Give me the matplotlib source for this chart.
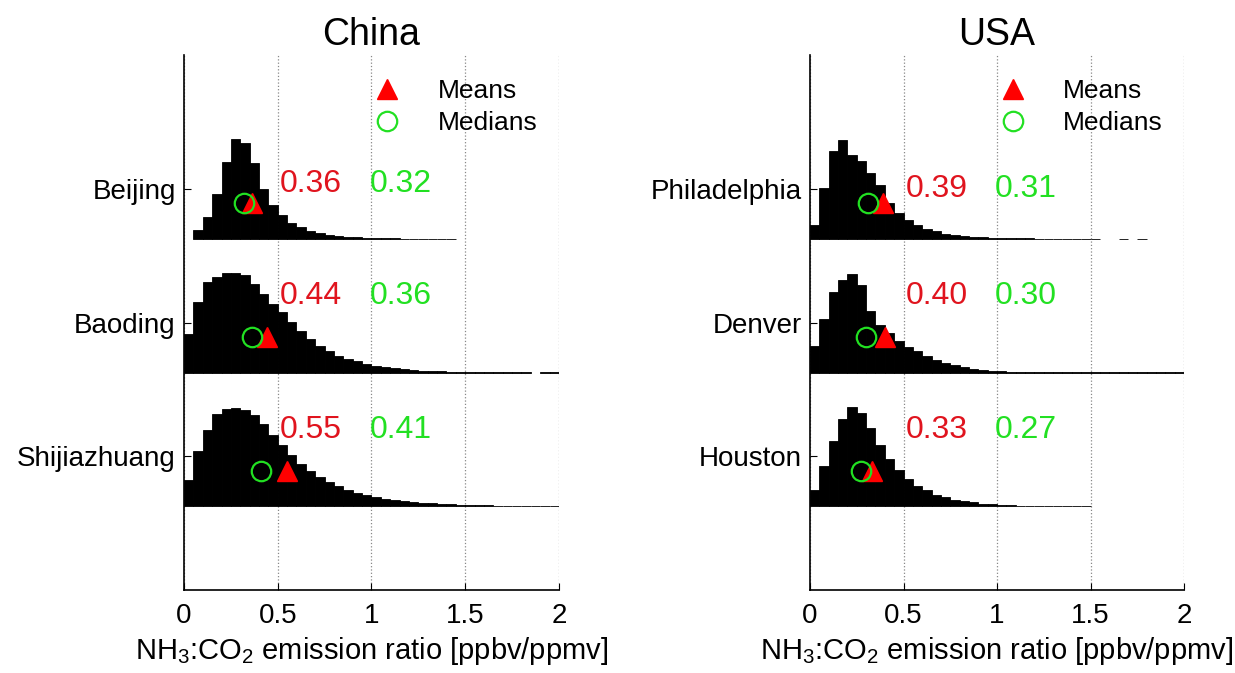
import numpy as np
import matplotlib
matplotlib.use("Agg")
from matplotlib import pyplot as plt
from matplotlib.lines import Line2D

plt.rcParams['font.family'] = ['Liberation Sans', 'DejaVu Sans']
plt.rcParams['mathtext.fontset'] = 'custom'
plt.rcParams['mathtext.rm'] = 'Liberation Sans'
plt.rcParams['mathtext.it'] = 'Liberation Sans:italic'

# --- data (normalised histograms, bin width 0.05) ---
bin_width = 0.05

china_cities = ["Beijing", "Baoding", "Shijiazhuang"]
usa_cities = ["Philadelphia", "Denver", "Houston"]

beijing = [0, 0.065, 0.165, 0.335, 0.575, 0.75, 0.715, 0.565, 0.37, 0.255,
           0.18, 0.117, 0.087, 0.062, 0.045, 0.032, 0.022, 0.016, 0.012, 0.009,
           0.007, 0.005, 0.004, 0.003, 0.002, 0.002, 0.002, 0.002, 0.002, 0,
           0, 0, 0, 0, 0, 0, 0, 0, 0, 0]
baoding = [0.29, 0.53, 0.675, 0.713, 0.745, 0.745, 0.73, 0.663, 0.589, 0.514,
           0.451, 0.377, 0.314, 0.252, 0.202, 0.165, 0.127, 0.102, 0.085, 0.065,
           0.052, 0.042, 0.034, 0.027, 0.021, 0.016, 0.012, 0.009, 0.007, 0.005,
           0.004, 0.003, 0.003, 0.002, 0.002, 0.002, 0.002, 0, 0.002, 0.002]
shijiazhuang = [0.195, 0.415, 0.574, 0.69, 0.726, 0.738, 0.718, 0.681, 0.615, 0.531,
                0.456, 0.382, 0.319, 0.264, 0.219, 0.182, 0.150, 0.125, 0.102, 0.082,
                0.070, 0.057, 0.047, 0.040, 0.032, 0.027, 0.022, 0.018, 0.015, 0.012,
                0.010, 0.008, 0.007, 0.006, 0.005, 0.004, 0.003, 0.003, 0.002, 0.002]
philadelphia = [0.107, 0.38, 0.655, 0.743, 0.63, 0.586, 0.494, 0.406, 0.269, 0.195,
                0.145, 0.102, 0.077, 0.057, 0.04, 0.027, 0.02, 0.015, 0.012, 0.009,
                0.007, 0.006, 0.005, 0.004, 0.003, 0.003, 0.002, 0.002, 0.002, 0.002,
                0.002, 0, 0, 0.002, 0, 0.002, 0, 0, 0, 0]
denver = [0.197, 0.404, 0.603, 0.696, 0.74, 0.658, 0.464, 0.36, 0.30, 0.234,
          0.19, 0.16, 0.122, 0.097, 0.072, 0.055, 0.04, 0.03, 0.022, 0.015,
          0.011, 0.008, 0.006, 0.005, 0.004, 0.002, 0.002, 0.002, 0.002, 0.002,
          0.002, 0.002, 0.002, 0.002, 0.002, 0.002, 0.002, 0.002, 0.002, 0.002]
houston = [0.125, 0.304, 0.491, 0.653, 0.743, 0.698, 0.586, 0.46, 0.354, 0.274,
           0.204, 0.155, 0.12, 0.087, 0.07, 0.05, 0.037, 0.03, 0.02, 0.015,
           0.01, 0.007, 0.005, 0.004, 0.003, 0.002, 0.002, 0.002, 0.002, 0.002,
           0, 0, 0, 0, 0, 0, 0, 0, 0, 0]

china_means = [0.36, 0.44, 0.55]
china_medians = [0.32, 0.36, 0.41]
usa_means = [0.39, 0.40, 0.33]
usa_medians = [0.31, 0.30, 0.27]

RED = '#ff0000'
GREEN = '#22e022'
TXT_RED = '#e0141e'


def panel(ax, title, cities, hists, means, medians, top_text_dy):
    baselines = [2.625, 1.625, 0.625]
    edges = np.arange(len(hists[0])) * bin_width
    for i, (h, base) in enumerate(zip(hists, baselines)):
        h = np.asarray(h)
        m = h > 0
        ax.bar(edges[m], h[m], width=bin_width, bottom=base, align='edge',
               color='black', edgecolor='black', linewidth=0.6, zorder=2)
        my = base + 0.265
        ax.plot(means[i], my, marker='^', color=RED, ms=14, ls='none', zorder=4)
        ax.plot(medians[i], my, marker='o', mfc='none', mec=GREEN, mew=1.6,
                ms=14, ls='none', zorder=5)
        dy = top_text_dy if i == 0 else 0.57
        ax.text(0.51, base + dy, "%.2f" % means[i], color=TXT_RED,
                fontsize=23, va='center', ha='left')
        ax.text(0.99, base + dy, "%.2f" % medians[i], color=GREEN,
                fontsize=23, va='center', ha='left')

    ax.set_xlim(0, 2)
    ax.set_ylim(0, 4)
    ax.set_xticks([0, 0.5, 1, 1.5, 2])
    ax.set_xticklabels(['0', '0.5', '1', '1.5', '2'])
    ax.set_yticks([3, 2, 1])
    ax.set_yticklabels(cities)
    ax.tick_params(axis='y', direction='in', length=5, labelsize=20, pad=6)
    ax.tick_params(axis='x', direction='in', length=5, labelsize=20, pad=9)
    ax.xaxis.grid(True, linestyle=':', color='#888888', linewidth=0.9)
    ax.set_axisbelow(True)
    for s in ['top', 'right']:
        ax.spines[s].set_visible(False)
    ax.spines['left'].set_linewidth(1.2)
    ax.spines['bottom'].set_linewidth(1.2)
    ax.set_title(title, fontsize=27, pad=7)
    ax.set_xlabel('NH$_3$:CO$_2$ emission ratio [ppbv/ppmv]', fontsize=21, labelpad=5)

    handles = [Line2D([], [], marker='^', color=RED, ms=14, ls='none'),
               Line2D([], [], marker='o', mfc='none', mec=GREEN, mew=1.6, ms=14, ls='none')]
    ax.legend(handles, ['Means', 'Medians'], loc='upper left',
              bbox_to_anchor=(0.5, 0.955), frameon=False, fontsize=19,
              borderpad=0, borderaxespad=0, handlelength=1.2,
              handletextpad=1.3, labelspacing=0.3)


fig = plt.figure(figsize=(12.35, 6.73), dpi=100)
ax1 = fig.add_axes([0.149, 0.1233, 0.3036, 0.795])
ax2 = fig.add_axes([0.6559, 0.1233, 0.3028, 0.795])

panel(ax1, 'China', china_cities, [beijing, baoding, shijiazhuang],
      china_means, china_medians, 0.41)
panel(ax2, 'USA', usa_cities, [philadelphia, denver, houston],
      usa_means, usa_medians, 0.37)

fig.savefig('out.png', dpi=100)
